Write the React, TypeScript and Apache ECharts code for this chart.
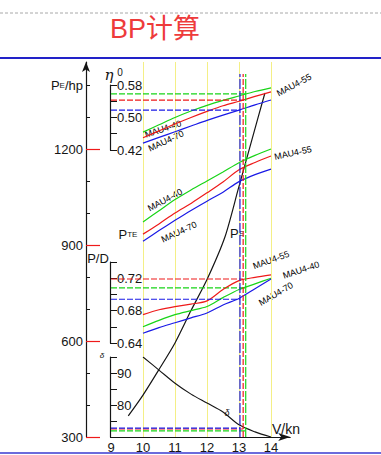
import React, { useEffect, useRef } from 'react';
import * as echarts from 'echarts';

// ---------- data ----------
const propellers = ['MAU4-40', 'MAU4-55', 'MAU4-70'];
const speeds = [10, 10.5, 11, 11.5, 12, 12.5, 13, 13.5, 14];

const eta40 = [0.464, 0.482, 0.5, 0.516, 0.53, 0.542, 0.553, 0.564, 0.573];
const eta55 = [0.45, 0.467, 0.484, 0.5, 0.515, 0.529, 0.54, 0.552, 0.563];
const eta70 = [0.437, 0.451, 0.465, 0.479, 0.493, 0.506, 0.518, 0.531, 0.543];

const pte40 = [972, 1007, 1042, 1072, 1100, 1128, 1157, 1180, 1200];
const pte55 = [934, 966, 1000, 1030, 1063, 1097, 1135, 1158, 1178];
const pte70 = [912, 945, 977, 1008, 1037, 1065, 1098, 1120, 1137];

const pd40 = [0.66, 0.668, 0.675, 0.68, 0.685, 0.696, 0.706, 0.713, 0.72];
const pd55 = [0.675, 0.681, 0.685, 0.688, 0.692, 0.706, 0.717, 0.721, 0.724];
const pd70 = [0.652, 0.659, 0.665, 0.671, 0.677, 0.687, 0.695, 0.707, 0.719];

const peSpeeds = [9.54, 10, 10.5, 11, 11.5, 12, 12.56, 12.98, 13.4, 13.81];
const peHp = [366, 431, 511, 594, 695, 792, 925, 1076, 1228, 1375];

const deltaSpeeds = [10, 10.5, 11, 11.5, 12, 12.5, 13, 13.5, 14];
const deltaValues = [95.0, 90.9, 86.8, 83.4, 80.6, 77.8, 73.8, 71.6, 70.0];

const designSpeed = [13.21, 13.13, 13.03];
const designEta = [0.558, 0.543, 0.518];
const designPD = [0.708, 0.719, 0.694];
const designDelta = [71.9, 72.5, 72.8];
const designLineRange = [300, 1434];

const hpTicks = [300, 400, 500, 600, 700, 800, 900, 1000, 1100, 1200, 1300, 1400];
const hpLabels = [300, 600, 900, 1200, 1400];
const hpRedTicks = [300, 600, 900, 1200];
const etaLabels = [0.42, 0.5, 0.58];
const pdLabels = [0.64, 0.68, 0.72];
const deltaLabels = [80, 90];
const speedLabels = [9, 10, 11, 12, 13, 14];

// ---------- styles ----------
const FONT = '"Liberation Sans", Arial, sans-serif';
const GREEN = '#18d418';
const RED = '#ee1a1a';
const BLUE = '#1a1ae6';
const INK = '#151515';
const YELLOW = '#f4ef86';
const colors = [GREEN, RED, BLUE];

const pair = (xs: number[], ys: number[]) => xs.map((x, i) => [x, ys[i]]);

const GL = 111;
const GW = 179.2;

function buildOption() {
  const etaSets = [eta40, eta55, eta70];
  const pteSets = [pte40, pte55, pte70];
  const pdSets = [pd40, pd55, pd70];

  const series: any[] = [];
  const base = { type: 'line', symbol: 'none', silent: true, z: 3 };

  // PE curve
  series.push({ ...base, name: 'PE', xAxisIndex: 0, yAxisIndex: 0, data: pair(peSpeeds, peHp), smooth: 0.25, lineStyle: { color: INK, width: 1.2 } });
  propellers.forEach((p, i) => {
    series.push({ ...base, name: p + ' PTE', xAxisIndex: 0, yAxisIndex: 0, data: pair(speeds, pteSets[i]), smooth: 0.3, lineStyle: { color: colors[i], width: 1.2 } });
    series.push({ ...base, name: p + ' V', xAxisIndex: 0, yAxisIndex: 0, z: 4, data: designLineRange.map((h) => [designSpeed[i], h]), lineStyle: { color: colors[i], width: 1.2, type: i === 1 ? [6, 2] : [10, 2] } });
    series.push({ ...base, name: p + ' eta', xAxisIndex: 1, yAxisIndex: 2, data: pair(speeds, etaSets[i]), smooth: 0.3, lineStyle: { color: colors[i], width: 1.2 } });
    series.push({ ...base, name: p + ' eta design', xAxisIndex: 1, yAxisIndex: 2, data: [[9, designEta[i]], [designSpeed[i], designEta[i]]], lineStyle: { color: colors[i], width: 1.2, type: [6, 2] } });
    series.push({ ...base, name: p + ' PD', xAxisIndex: 2, yAxisIndex: 3, data: pair(speeds, pdSets[i]), smooth: 0.3, lineStyle: { color: colors[i], width: 1.2 } });
    series.push({ ...base, name: p + ' PD design', xAxisIndex: 2, yAxisIndex: 3, data: [[9, designPD[i]], [designSpeed[i], designPD[i]]], lineStyle: { color: colors[i], width: 1.2, type: [6, 2] } });
    series.push({ ...base, name: p + ' delta design', xAxisIndex: 3, yAxisIndex: 4, data: [[9, designDelta[i]], [designSpeed[i], designDelta[i]]], lineStyle: { color: colors[i], width: 1.2, type: [6, 2] } });
  });
  series.push({ ...base, name: 'delta', xAxisIndex: 3, yAxisIndex: 4, data: pair(deltaSpeeds, deltaValues), smooth: 0.3, lineStyle: { color: INK, width: 1.1 } });

  const hiddenX = (gridIndex: number) => ({ type: 'value', gridIndex, min: 9, max: 14.6, show: false });
  const labelStyle = { color: INK, fontSize: 13, fontFamily: FONT };

  const mau = (text: string, x: number, y: number, deg: number) => ({
    type: 'text', x, y, rotation: (deg * Math.PI) / 180, silent: true,
    style: { text, fill: '#000', font: '9px ' + FONT, align: 'center', verticalAlign: 'middle' },
  });

  const graphic = [
    { type: 'line', silent: true, shape: { x1: 0, y1: 13, x2: 381, y2: 13 }, style: { stroke: '#a8a8a8', lineWidth: 1, lineDash: [3, 2] } },
    { type: 'line', silent: true, shape: { x1: 0, y1: 58, x2: 381, y2: 58 }, style: { stroke: '#2222c8', lineWidth: 2 } },
    { type: 'line', silent: true, shape: { x1: 0, y1: 453, x2: 381, y2: 453 }, style: { stroke: '#3a3ad0', lineWidth: 1.5 } },
    { type: 'text', x: 110, y: 29, silent: true, style: { text: 'BP计算', fill: '#ee3b3b', font: '27px "Liberation Sans", "Noto Sans CJK SC", sans-serif', verticalAlign: 'middle' } },
    { type: 'text', x: 109, y: 75, silent: true, style: { text: 'η', fill: INK, font: 'italic 15px "DejaVu Serif", serif', align: 'center', verticalAlign: 'middle' } },
    { type: 'text', x: 120, y: 72, silent: true, style: { text: '0', fill: INK, font: '10px ' + FONT, align: 'center', verticalAlign: 'middle' } },
    { type: 'text', x: 98, y: 258, silent: true, style: { text: 'P/D', fill: INK, font: '13px ' + FONT, align: 'center', verticalAlign: 'middle' } },
    { type: 'text', x: 102, y: 355, silent: true, style: { text: 'δ', fill: INK, font: 'italic 8px ' + FONT, align: 'center', verticalAlign: 'middle' } },
    { type: 'text', x: 227, y: 413, silent: true, style: { text: 'δ', fill: INK, font: 'italic 9px ' + FONT, align: 'center', verticalAlign: 'middle' } },
    { type: 'text', x: 272, y: 429, silent: true, style: { text: 'V/kn', fill: INK, font: '14px ' + FONT, align: 'left', verticalAlign: 'middle' } },
    { type: 'text', x: 128, y: 234, silent: true, style: { text: '{a|P}{b|TE}', align: 'center', verticalAlign: 'middle', rich: { a: { fontSize: 13, fontFamily: FONT, fill: INK }, b: { fontSize: 8, fontFamily: FONT, fill: INK } } } },
    { type: 'text', x: 237, y: 233, silent: true, style: { text: '{a|P}{b|E}', align: 'center', verticalAlign: 'middle', rich: { a: { fontSize: 13, fontFamily: FONT, fill: INK }, b: { fontSize: 8, fontFamily: FONT, fill: INK } } } },
    mau('MAU4-40', 163, 129, 18),
    mau('MAU4-70', 166, 141, 25),
    mau('MAU4-55', 294, 85, 28),
    mau('MAU4-40', 165, 200, 28),
    mau('MAU4-70', 179, 232, 25),
    mau('MAU4-55', 293, 153, 12),
    mau('MAU4-55', 271, 260, 20),
    mau('MAU4-40', 301, 270, 18),
    mau('MAU4-70', 276, 294, 30),
  ];

  return {
    animation: false,
    backgroundColor: '#ffffff',
    grid: [
      { left: GL, top: 62, width: GW, height: 375 },
      { left: GL, top: 85, width: GW, height: 65 },
      { left: GL, top: 262, width: GW, height: 81 },
      { left: GL, top: 357, width: GW, height: 80 },
    ],
    xAxis: [
      {
        type: 'value', gridIndex: 0, min: 9, max: 14.6, interval: 1,
        axisLine: { show: true, symbol: ['none', 'arrow'], symbolSize: [6, 12], lineStyle: { color: INK, width: 1.2 } },
        axisTick: { show: false },
        axisLabel: { ...labelStyle, margin: 4, customValues: speedLabels, formatter: (v: number) => (v <= 14.01 ? String(Math.round(v)) : '') },
        splitLine: { show: true, showMinLine: false, showMaxLine: false, lineStyle: { color: YELLOW, width: 1 } },
      },
      hiddenX(1), hiddenX(2), hiddenX(3),
    ],
    yAxis: [
      {
        type: 'value', gridIndex: 0, position: 'left', offset: 25, min: 300, max: 1471.875, interval: 100,
        axisLine: { show: true, onZero: false, symbol: ['none', 'arrow'], symbolSize: [6, 10], lineStyle: { color: INK, width: 1.2 } },
        axisTick: { show: true, inside: true, length: 4, customValues: hpTicks, lineStyle: { color: INK } },
        axisLabel: {
          ...labelStyle, margin: 3, customValues: hpLabels,
          formatter: (v: number) => (Math.abs(v - 1400) < 1 ? '{a|P}{b|E}{a|/hp}' : hpLabels.indexOf(Math.round(v)) >= 0 ? String(Math.round(v)) : ''),
          rich: { a: { fontSize: 13, fontFamily: FONT, color: INK }, b: { fontSize: 8, fontFamily: FONT, color: INK } },
        },
        splitLine: { show: false },
      },
      {
        type: 'value', gridIndex: 0, position: 'left', offset: 25, min: 300, max: 1471.875, interval: 300,
        axisLine: { show: false },
        axisTick: { show: true, inside: true, length: 14, customValues: hpRedTicks, lineStyle: { color: RED, width: 1.2 } },
        axisLabel: { show: false },
        splitLine: { show: false },
      },
      {
        type: 'value', gridIndex: 1, position: 'left', offset: 1, min: 0.42, max: 0.58, interval: 0.04,
        axisLine: { show: true, onZero: false, lineStyle: { color: INK, width: 1.2 } },
        axisTick: { show: true, inside: true, length: 7, lineStyle: { color: INK } },
        axisLabel: { ...labelStyle, inside: true, margin: 7, customValues: etaLabels, formatter: (v: number) => v.toFixed(2) },
        splitLine: { show: false },
      },
      {
        type: 'value', gridIndex: 2, position: 'left', offset: 1, min: 0.64, max: 0.74, interval: 0.02,
        axisLine: { show: true, onZero: false, lineStyle: { color: INK, width: 1.2 } },
        axisTick: { show: true, inside: true, length: 7, lineStyle: { color: INK } },
        axisLabel: { ...labelStyle, inside: true, margin: 7, customValues: pdLabels, formatter: (v: number) => v.toFixed(2) },
        splitLine: { show: false },
      },
      {
        type: 'value', gridIndex: 3, position: 'left', offset: 1, min: 70, max: 95, interval: 5,
        axisLine: { show: true, onZero: false, lineStyle: { color: INK, width: 1.2 } },
        axisTick: { show: true, inside: true, length: 7, lineStyle: { color: INK } },
        axisLabel: { ...labelStyle, inside: true, margin: 7, customValues: deltaLabels, formatter: (v: number) => String(Math.round(v)) },
        splitLine: { show: false },
      },
    ],
    series,
    graphic,
  };
}

export default function App() {
  const ref = useRef<HTMLDivElement>(null);
  useEffect(() => {
    if (!ref.current) return;
    const chart = echarts.init(ref.current, null, { renderer: 'svg' });
    chart.setOption(buildOption() as any);
    return () => chart.dispose();
  }, []);
  return <div ref={ref} style={{ position: 'absolute', left: 0, top: 0, width: 381, height: 455, background: '#fff' }} />;
}
